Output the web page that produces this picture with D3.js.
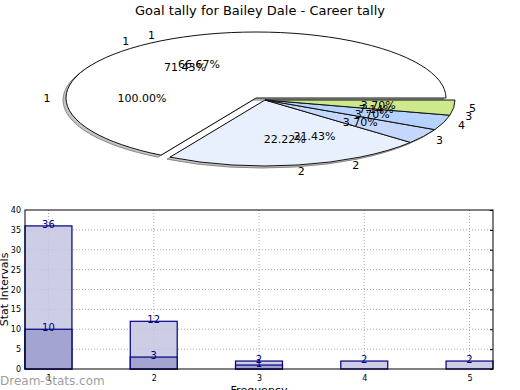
<!DOCTYPE html>
<html>
<head>
<meta charset="utf-8">
<script src="https://cdn.jsdelivr.net/npm/d3@7"></script>
<style>
  body { margin: 0; background: #fff; }
  svg { font-family: "DejaVu Sans", sans-serif; }
</style>
</head>
<body>
<svg id="canvas" width="520" height="390"></svg>
<script>
let categories = ["1", "2", "3", "4", "5"]
let allValues = [36, 12, 2, 2, 2]     // light bars, also the drawn pie
let goalValues = [10, 3, 1, 0, 0]     // dark bars
let thirdValues = [1, 0, 0, 0, 0]     // only shows as the 100.00% label
let yTicks = [0, 5, 10, 15, 20, 25, 30, 35, 40]
let sliceColors = ["#ffffff", "#e9f0fd", "#c6d7fc", "#b6d3ff", "#cde98c"]

let width = 520
let height = 390

let canvas = d3.select("#canvas")

canvas.append("text")
    .attr("x", width / 2)
    .attr("y", 15)
    .attr("text-anchor", "middle")
    .style("font-size", "13px")
    .text("Goal tally for Bailey Dale - Career tally")

// ---------- pie ----------
let cx = 265, cy = 100
let rx = 190, ry = 66
let ratio = ry / rx
let explode = [-9, -2]

let pie = d3.pie().sort(null).startAngle(Math.PI / 2).endAngle(Math.PI / 2 - 2 * Math.PI)
let arc = d3.arc().innerRadius(0).outerRadius(rx)
let labelArc = d3.arc().innerRadius(rx * 0.6).outerRadius(rx * 0.6)
let outerArc = d3.arc().innerRadius(rx * 1.1).outerRadius(rx * 1.1)

let centerOf = i => i == 0 ? [cx + explode[0], cy + explode[1]] : [cx, cy]

let drawPie = () => {
    let slices = pie(allValues)

    let shadow = canvas.append("g")
    let top = canvas.append("g")

    slices.forEach((s, i) => {
        let c = centerOf(i)
        shadow.append("path")
            .attr("d", arc(s))
            .attr("transform", "translate(" + (c[0] - 3) + "," + (c[1] + 2) + ") scale(1," + ratio + ")")
            .attr("fill", "#c4c4c4")
            .attr("stroke", "#888")
            .attr("vector-effect", "non-scaling-stroke")
        top.append("path")
            .attr("d", arc(s))
            .attr("transform", "translate(" + c[0] + "," + c[1] + ") scale(1," + ratio + ")")
            .attr("fill", sliceColors[i])
            .attr("stroke", "#111")
            .attr("stroke-width", 1)
            .attr("vector-effect", "non-scaling-stroke")
    })

    // labels for every series, all on the same geometry
    let labelSets = [thirdValues, goalValues, allValues]
    labelSets.forEach(vals => {
        let total = d3.sum(vals)
        pie(vals).forEach((s, i) => {
            if (s.value == 0) return
            let c = centerOf(i)
            let p = labelArc.centroid(s)
            canvas.append("text")
                .attr("x", c[0] + p[0])
                .attr("y", c[1] + p[1] * ratio + 4)
                .attr("text-anchor", "middle")
                .style("font-size", "11px")
                .text((s.value / total * 100).toFixed(2) + "%")
            let q = outerArc.centroid(s)
            canvas.append("text")
                .attr("x", c[0] + q[0])
                .attr("y", c[1] + q[1] * ratio + 4)
                .attr("text-anchor", "middle")
                .style("font-size", "11px")
                .text(categories[i])
        })
    })
}

// ---------- bars ----------
let left = 25, right = 493, plotTop = 210, plotBottom = 369
let xScale = d3.scaleLinear().domain([0.777, 5.223]).range([left, right])
let yScale = d3.scaleLinear().domain([0, 40]).range([plotBottom, plotTop])
let barW = xScale(1.223) - xScale(0.777)

let drawBars = () => {
    let g = canvas.append("g")

    // grid
    g.selectAll(".hgrid").data(yTicks.slice(1, -1)).enter().append("line")
        .attr("x1", left).attr("x2", right)
        .attr("y1", d => yScale(d)).attr("y2", d => yScale(d))
        .attr("stroke", "#aaa").attr("stroke-dasharray", "1,2")
    g.selectAll(".vgrid").data(categories).enter().append("line")
        .attr("x1", d => xScale(+d)).attr("x2", d => xScale(+d))
        .attr("y1", plotTop).attr("y2", plotBottom)
        .attr("stroke", "#aaa").attr("stroke-dasharray", "1,2")

    let drawSeries = (vals, fill) => {
        g.selectAll(null).data(vals).enter().append("rect")
            .filter(d => d > 0)
            .attr("x", (d, i) => xScale(i + 1) - barW / 2)
            .attr("y", d => yScale(d))
            .attr("width", barW)
            .attr("height", d => plotBottom - yScale(d))
            .attr("fill", fill)
            .attr("fill-opacity", 0.85)
            .attr("stroke", "#000080")
            .attr("stroke-width", 1.2)
    }
    drawSeries(allValues, "#c4c4e0")
    drawSeries(goalValues, "#9c9ccc")

    let labelSeries = vals => {
        vals.forEach((d, i) => {
            if (d == 0) return
            g.append("text")
                .attr("x", xScale(i + 1))
                .attr("y", yScale(d) + 2)
                .attr("text-anchor", "middle")
                .attr("fill", "#000080")
                .style("font-size", "10px")
                .text(d)
        })
    }
    labelSeries(allValues)
    labelSeries(goalValues)

    // frame + axes
    g.append("rect")
        .attr("x", left).attr("y", plotTop)
        .attr("width", right - left).attr("height", plotBottom - plotTop)
        .attr("fill", "none").attr("stroke", "#000")

    let yAxis = d3.axisLeft(yScale).tickValues(yTicks).tickSize(0).tickPadding(4)
    let ya = g.append("g").attr("transform", "translate(" + left + ",0)").call(yAxis)
    ya.select(".domain").remove()
    ya.selectAll("text").style("font-size", "8px").style("font-family", "DejaVu Sans")

    let yRight = d3.axisLeft(yScale).tickValues(yTicks).tickSize(3).tickFormat("")
    let yr = g.append("g").attr("transform", "translate(" + right + ",0)").call(yRight)
    yr.select(".domain").remove()

    let xAxis = d3.axisBottom(xScale).tickValues([1, 2, 3, 4, 5]).tickFormat(d3.format("d")).tickSize(0).tickPadding(6)
    let xa = g.append("g").attr("transform", "translate(0," + plotBottom + ")").call(xAxis)
    xa.select(".domain").remove()
    xa.selectAll("text").style("font-size", "8px").style("font-family", "DejaVu Sans")

    canvas.append("text")
        .attr("x", (left + right) / 2)
        .attr("y", 394)
        .attr("text-anchor", "middle")
        .style("font-size", "11px")
        .text("Frequency")

    canvas.append("text")
        .attr("transform", "translate(8," + ((plotTop + plotBottom) / 2) + ") rotate(-90)")
        .attr("text-anchor", "middle")
        .style("font-size", "11px")
        .text("Stat Intervals")

    canvas.append("text")
        .attr("x", 0)
        .attr("y", 385)
        .attr("fill", "#8a8a8a")
        .attr("fill-opacity", 0.85)
        .style("font-size", "12px")
        .text("Dream-Stats.com")
}

drawPie()
drawBars()
</script>
</body>
</html>
